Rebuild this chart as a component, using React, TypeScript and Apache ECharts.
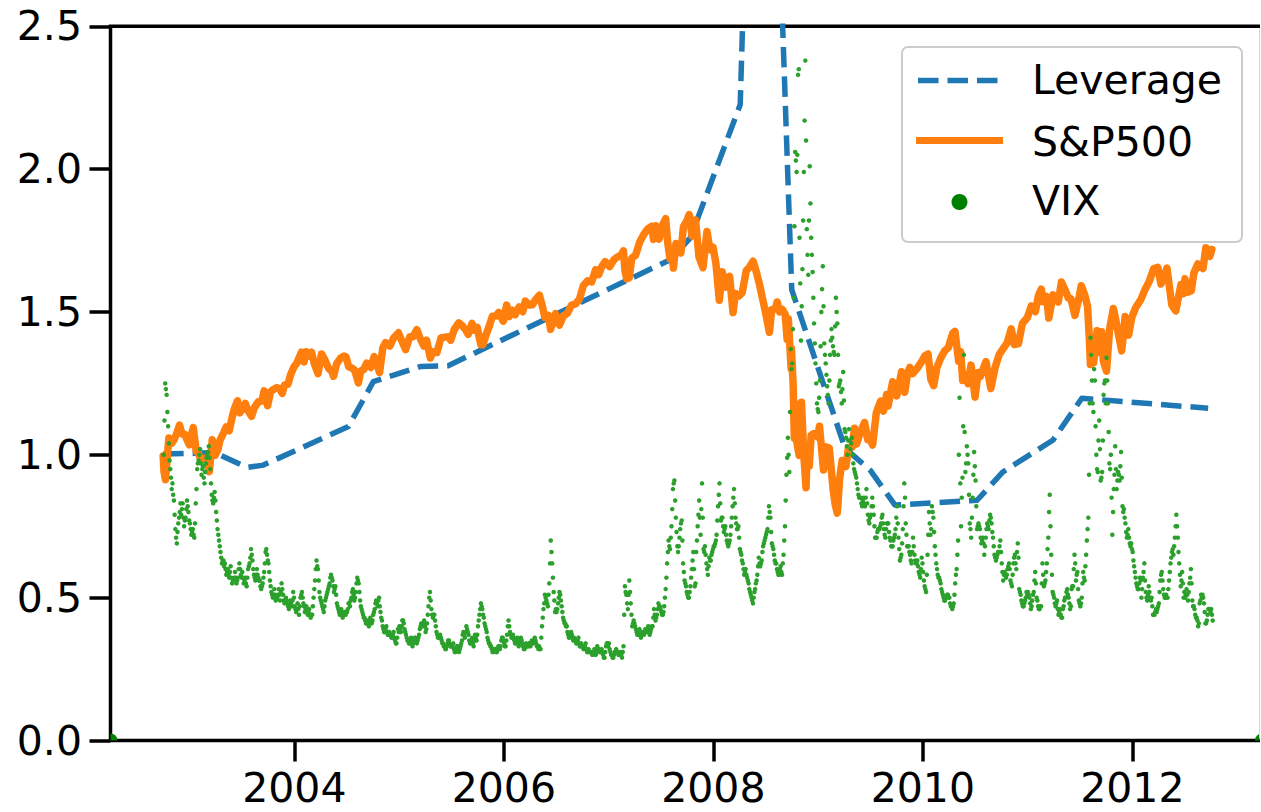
import React, { useEffect, useRef } from "react";
import * as echarts from "echarts";

// ---------- axis ticks ----------
const xTickYears = [2004, 2006, 2008, 2010, 2012];
const X_MIN = 2002.2453;
const X_MAX = 2013.238;
const Y_MIN = 0;
const Y_MAX = 2.5;
const Y_STEP = 0.5;

// ---------- Leverage (normalised) ----------
const leverage: [string, number][] = [
  ["2002-10-01", 1.003], ["2003-03-31", 1.007], ["2003-07-20", 0.956], ["2003-09-15", 0.964],
  ["2004-07-08", 1.099], ["2004-10-03", 1.256], ["2005-03-16", 1.309], ["2005-06-21", 1.312],
  ["2007-08-04", 1.683], ["2007-10-13", 1.759], ["2008-04-04", 2.226], ["2008-06-16", 4.69],
  ["2008-10-01", 1.578], ["2009-04-05", 1.023], ["2009-07-01", 0.947], ["2009-09-26", 0.824],
  ["2010-07-09", 0.841], ["2010-10-07", 0.94], ["2011-03-31", 1.052], ["2011-07-09", 1.198],
  ["2012-09-22", 1.163],
];

// ---------- S&P500 (normalised) ----------
const sp2002: [string, number][] = [
  ["2002-10-01", 0.996], ["2002-10-04", 0.941], ["2002-10-09", 0.913], ["2002-10-15", 0.989], ["2002-10-21", 1.059],
  ["2002-10-31", 1.041], ["2002-11-08", 1.053], ["2002-11-15", 1.069], ["2002-11-27", 1.104], ["2002-12-06", 1.073],
  ["2002-12-16", 1.071], ["2002-12-23", 1.053], ["2002-12-31", 1.035],
];
const sp2003: [string, number][] = [
  ["2003-01-08", 1.071], ["2003-01-14", 1.095], ["2003-01-24", 1.013], ["2003-01-31", 1.007], ["2003-02-10", 0.982],
  ["2003-02-20", 0.985], ["2003-02-28", 0.989], ["2003-03-11", 0.941], ["2003-03-21", 1.053], ["2003-03-31", 0.998],
  ["2003-04-10", 1.019], ["2003-04-17", 1.051], ["2003-04-30", 1.078], ["2003-05-09", 1.098], ["2003-05-19", 1.084],
  ["2003-05-30", 1.134], ["2003-06-06", 1.161], ["2003-06-17", 1.189], ["2003-06-25", 1.147], ["2003-07-03", 1.159],
  ["2003-07-14", 1.18], ["2003-07-24", 1.154], ["2003-08-05", 1.135], ["2003-08-15", 1.165], ["2003-08-29", 1.186],
  ["2003-09-10", 1.188], ["2003-09-18", 1.224], ["2003-09-30", 1.172], ["2003-10-10", 1.221], ["2003-10-21", 1.229],
  ["2003-10-31", 1.235], ["2003-11-10", 1.232], ["2003-11-20", 1.215], ["2003-11-28", 1.245], ["2003-12-10", 1.247],
  ["2003-12-19", 1.28], ["2003-12-31", 1.308],
];
const sp2004: [string, number][] = [
  ["2004-01-09", 1.32], ["2004-01-26", 1.359], ["2004-02-04", 1.325], ["2004-02-11", 1.361], ["2004-02-20", 1.346],
  ["2004-03-01", 1.359], ["2004-03-10", 1.322], ["2004-03-24", 1.284], ["2004-04-05", 1.353], ["2004-04-16", 1.334],
  ["2004-04-30", 1.302], ["2004-05-12", 1.291], ["2004-05-17", 1.275], ["2004-05-28", 1.319], ["2004-06-10", 1.338],
  ["2004-06-23", 1.346], ["2004-06-30", 1.342], ["2004-07-09", 1.308], ["2004-07-20", 1.304], ["2004-07-30", 1.296],
  ["2004-08-12", 1.252], ["2004-08-20", 1.293], ["2004-08-31", 1.299], ["2004-09-10", 1.321], ["2004-09-24", 1.306],
  ["2004-10-06", 1.344], ["2004-10-25", 1.288], ["2004-11-05", 1.373], ["2004-11-15", 1.393], ["2004-11-30", 1.381],
  ["2004-12-13", 1.409], ["2004-12-30", 1.427],
];
const sp2005: [string, number][] = [
  ["2005-01-10", 1.4], ["2005-01-24", 1.368], ["2005-02-07", 1.413], ["2005-02-18", 1.413], ["2005-03-04", 1.438],
  ["2005-03-15", 1.409], ["2005-03-28", 1.381], ["2005-04-07", 1.401], ["2005-04-20", 1.339], ["2005-04-29", 1.361],
  ["2005-05-13", 1.358], ["2005-05-27", 1.409], ["2005-06-10", 1.412], ["2005-06-23", 1.413], ["2005-06-30", 1.401],
  ["2005-07-12", 1.438], ["2005-07-28", 1.462], ["2005-08-10", 1.451], ["2005-08-22", 1.436], ["2005-08-30", 1.422],
  ["2005-09-12", 1.46], ["2005-09-20", 1.436], ["2005-09-30", 1.446], ["2005-10-13", 1.385], ["2005-10-20", 1.385],
  ["2005-10-31", 1.42], ["2005-11-10", 1.447], ["2005-11-22", 1.485], ["2005-12-05", 1.486], ["2005-12-14", 1.498],
  ["2005-12-30", 1.468],
];
const sp2006: [string, number][] = [
  ["2006-01-11", 1.524], ["2006-01-20", 1.484], ["2006-01-31", 1.506], ["2006-02-10", 1.491], ["2006-02-24", 1.518],
  ["2006-03-08", 1.501], ["2006-03-17", 1.538], ["2006-03-31", 1.524], ["2006-04-10", 1.525], ["2006-04-21", 1.542],
  ["2006-05-05", 1.559], ["2006-05-15", 1.522], ["2006-05-24", 1.481], ["2006-06-05", 1.488], ["2006-06-13", 1.439],
  ["2006-06-22", 1.466], ["2006-06-30", 1.494], ["2006-07-14", 1.454], ["2006-07-27", 1.486], ["2006-08-10", 1.495],
  ["2006-08-25", 1.524], ["2006-09-08", 1.528], ["2006-09-22", 1.546], ["2006-10-05", 1.592], ["2006-10-20", 1.609],
  ["2006-11-03", 1.605], ["2006-11-17", 1.648], ["2006-11-28", 1.631], ["2006-12-08", 1.658], ["2006-12-20", 1.676],
];
const sp2007: [string, number][] = [
  ["2007-01-05", 1.659], ["2007-01-19", 1.682], ["2007-01-31", 1.692], ["2007-02-14", 1.699], ["2007-02-22", 1.714],
  ["2007-02-27", 1.646], ["2007-03-05", 1.616], ["2007-03-14", 1.62], ["2007-03-23", 1.689], ["2007-04-05", 1.698],
  ["2007-04-20", 1.746], ["2007-05-04", 1.772], ["2007-05-18", 1.791], ["2007-05-31", 1.8], ["2007-06-07", 1.754],
  ["2007-06-15", 1.802], ["2007-06-26", 1.755], ["2007-07-06", 1.8], ["2007-07-19", 1.827], ["2007-07-26", 1.744],
  ["2007-08-03", 1.686], ["2007-08-09", 1.709], ["2007-08-15", 1.654], ["2007-08-24", 1.74], ["2007-09-10", 1.707],
  ["2007-09-19", 1.799], ["2007-10-01", 1.82], ["2007-10-09", 1.841], ["2007-10-19", 1.766], ["2007-10-31", 1.822],
  ["2007-11-12", 1.693], ["2007-11-26", 1.655], ["2007-12-10", 1.782], ["2007-12-20", 1.718], ["2007-12-31", 1.727],
];
const sp2008: [string, number][] = [
  ["2008-01-10", 1.671], ["2008-01-22", 1.541], ["2008-02-01", 1.641], ["2008-02-14", 1.587], ["2008-02-27", 1.625],
  ["2008-03-10", 1.498], ["2008-03-18", 1.565], ["2008-03-31", 1.556], ["2008-04-11", 1.568], ["2008-04-25", 1.645],
  ["2008-05-05", 1.655], ["2008-05-19", 1.678], ["2008-05-29", 1.645], ["2008-06-10", 1.598], ["2008-06-20", 1.551],
  ["2008-06-30", 1.506], ["2008-07-15", 1.429], ["2008-07-23", 1.508], ["2008-08-05", 1.511], ["2008-08-11", 1.535],
  ["2008-08-20", 1.5], ["2008-08-29", 1.509], ["2008-09-08", 1.492], ["2008-09-15", 1.404], ["2008-09-19", 1.476],
  ["2008-09-29", 1.301], ["2008-09-30", 1.372], ["2008-10-06", 1.244], ["2008-10-10", 1.058], ["2008-10-13", 1.18],
  ["2008-10-15", 1.068], ["2008-10-27", 0.998], ["2008-10-28", 1.107], ["2008-11-04", 1.184], ["2008-11-12", 1.002],
  ["2008-11-20", 0.885], ["2008-11-24", 1.002], ["2008-12-01", 0.96], ["2008-12-08", 1.069], ["2008-12-16", 1.074],
  ["2008-12-31", 1.062],
];
const sp2009: [string, number][] = [
  ["2009-01-06", 1.1], ["2009-01-20", 0.947], ["2009-01-28", 1.028], ["2009-02-09", 1.024], ["2009-02-23", 0.874],
  ["2009-03-02", 0.824], ["2009-03-09", 0.796], ["2009-03-17", 0.915], ["2009-03-26", 0.98], ["2009-04-08", 0.959],
  ["2009-04-17", 1.024], ["2009-04-30", 1.027], ["2009-05-08", 1.093], ["2009-05-15", 1.038], ["2009-05-29", 1.081],
  ["2009-06-12", 1.113], ["2009-06-23", 1.053], ["2009-07-02", 1.054], ["2009-07-10", 1.034], ["2009-07-23", 1.148],
  ["2009-08-07", 1.188], ["2009-08-17", 1.153], ["2009-08-28", 1.211], ["2009-09-02", 1.171], ["2009-09-18", 1.256],
  ["2009-10-02", 1.206], ["2009-10-19", 1.291], ["2009-10-30", 1.219], ["2009-11-09", 1.286], ["2009-11-17", 1.306],
  ["2009-11-27", 1.284], ["2009-12-11", 1.301], ["2009-12-28", 1.326],
];
const sp2010: [string, number][] = [
  ["2010-01-08", 1.347], ["2010-01-19", 1.353], ["2010-01-29", 1.264], ["2010-02-08", 1.242], ["2010-02-19", 1.305],
  ["2010-03-05", 1.34], ["2010-03-19", 1.365], ["2010-03-31", 1.375], ["2010-04-15", 1.425], ["2010-04-23", 1.432],
  ["2010-05-06", 1.327], ["2010-05-13", 1.361], ["2010-05-20", 1.26], ["2010-05-28", 1.281], ["2010-06-08", 1.249],
  ["2010-06-18", 1.314], ["2010-07-02", 1.202], ["2010-07-13", 1.288], ["2010-07-20", 1.274], ["2010-08-09", 1.326],
  ["2010-08-26", 1.232], ["2010-09-10", 1.306], ["2010-09-24", 1.351], ["2010-10-08", 1.372], ["2010-10-22", 1.392],
  ["2010-11-05", 1.441], ["2010-11-16", 1.386], ["2010-11-30", 1.389], ["2010-12-14", 1.46], ["2010-12-31", 1.48],
];
const sp2011: [string, number][] = [
  ["2011-01-14", 1.521], ["2011-01-28", 1.501], ["2011-02-08", 1.558], ["2011-02-18", 1.58], ["2011-02-24", 1.536],
  ["2011-03-08", 1.554], ["2011-03-16", 1.479], ["2011-03-31", 1.56], ["2011-04-18", 1.535], ["2011-04-29", 1.605],
  ["2011-05-13", 1.574], ["2011-05-23", 1.549], ["2011-06-01", 1.547], ["2011-06-15", 1.488], ["2011-06-30", 1.554],
  ["2011-07-07", 1.592], ["2011-07-19", 1.561], ["2011-07-29", 1.52], ["2011-08-04", 1.412], ["2011-08-08", 1.316],
  ["2011-08-11", 1.38], ["2011-08-19", 1.322], ["2011-08-31", 1.434], ["2011-09-09", 1.358], ["2011-09-16", 1.431],
  ["2011-09-22", 1.329], ["2011-10-03", 1.293], ["2011-10-14", 1.441], ["2011-10-27", 1.512], ["2011-11-04", 1.474],
  ["2011-11-09", 1.446], ["2011-11-25", 1.364], ["2011-12-07", 1.484], ["2011-12-19", 1.419], ["2011-12-30", 1.48],
];
const sp2012: [string, number][] = [
  ["2012-01-13", 1.516], ["2012-01-31", 1.544], ["2012-02-15", 1.58], ["2012-02-29", 1.607], ["2012-03-16", 1.652],
  ["2012-03-30", 1.656], ["2012-04-10", 1.598], ["2012-04-20", 1.621], ["2012-05-01", 1.654], ["2012-05-18", 1.524],
  ["2012-06-01", 1.504], ["2012-06-19", 1.596], ["2012-06-28", 1.564], ["2012-07-03", 1.616], ["2012-07-12", 1.569],
  ["2012-07-25", 1.574], ["2012-08-03", 1.636], ["2012-08-17", 1.668], ["2012-09-04", 1.652], ["2012-09-14", 1.725],
  ["2012-09-28", 1.695], ["2012-10-05", 1.719],
];

// ---------- VIX (normalised), six readings per month (set A) ----------
const vix2002 = [1.0, 1.25, 1.21, 1.1, 0.98, 0.92, 0.9, 0.84, 0.74, 0.69, 0.76, 0.8, 0.79, 0.83, 0.75, 0.78, 0.84, 0.8];
const vix2003 = [
  0.76, 0.72, 0.74, 0.71, 0.83, 0.95, 0.98, 1.02, 0.93, 0.96, 0.9, 0.97, 1.0, 1.03, 0.95, 0.86, 0.83, 0.87,
  0.8, 0.74, 0.7, 0.66, 0.62, 0.63, 0.62, 0.58, 0.6, 0.57, 0.61, 0.55, 0.56, 0.59, 0.55, 0.57, 0.62, 0.58,
  0.59, 0.55, 0.57, 0.54, 0.6, 0.62, 0.67, 0.63, 0.58, 0.56, 0.6, 0.57, 0.56, 0.53, 0.55, 0.59, 0.66, 0.65,
  0.62, 0.56, 0.52, 0.5, 0.53, 0.49, 0.5, 0.53, 0.49, 0.55, 0.51, 0.48, 0.5, 0.48, 0.46, 0.49, 0.47, 0.52,
];
const vix2004 = [
  0.47, 0.45, 0.48, 0.44, 0.5, 0.52, 0.48, 0.45, 0.47, 0.44, 0.46, 0.43, 0.44, 0.5, 0.56, 0.63, 0.6, 0.52,
  0.49, 0.47, 0.45, 0.49, 0.51, 0.53, 0.55, 0.58, 0.56, 0.52, 0.54, 0.48, 0.46, 0.44, 0.46, 0.43, 0.45, 0.44,
  0.45, 0.48, 0.47, 0.5, 0.53, 0.49, 0.52, 0.57, 0.55, 0.49, 0.46, 0.44, 0.43, 0.41, 0.42, 0.4, 0.43, 0.41,
  0.44, 0.46, 0.49, 0.47, 0.5, 0.45, 0.42, 0.39, 0.38, 0.4, 0.37, 0.38, 0.37, 0.36, 0.38, 0.35, 0.34, 0.39,
];
const vix2005 = [
  0.4, 0.38, 0.42, 0.41, 0.38, 0.36, 0.35, 0.34, 0.36, 0.33, 0.35, 0.36, 0.34, 0.36, 0.39, 0.41, 0.4, 0.42,
  0.38, 0.41, 0.47, 0.52, 0.46, 0.43, 0.44, 0.4, 0.37, 0.36, 0.37, 0.35, 0.34, 0.33, 0.32, 0.34, 0.35, 0.33,
  0.33, 0.34, 0.31, 0.32, 0.33, 0.31, 0.33, 0.35, 0.38, 0.36, 0.4, 0.38, 0.35, 0.34, 0.36, 0.33, 0.37, 0.35,
  0.4, 0.44, 0.48, 0.46, 0.43, 0.4, 0.38, 0.35, 0.34, 0.33, 0.31, 0.32, 0.32, 0.31, 0.33, 0.32, 0.35, 0.36,
];
const vix2006 = [
  0.34, 0.33, 0.37, 0.42, 0.38, 0.36, 0.37, 0.35, 0.34, 0.36, 0.33, 0.35, 0.35, 0.33, 0.32, 0.34, 0.33, 0.34,
  0.33, 0.35, 0.34, 0.36, 0.34, 0.33, 0.33, 0.32, 0.4, 0.46, 0.51, 0.49, 0.47, 0.55, 0.7, 0.62, 0.52, 0.45,
  0.45, 0.48, 0.52, 0.49, 0.45, 0.42, 0.41, 0.4, 0.37, 0.36, 0.38, 0.36, 0.36, 0.35, 0.34, 0.36, 0.33, 0.34,
  0.33, 0.32, 0.34, 0.31, 0.32, 0.31, 0.31, 0.3, 0.32, 0.3, 0.33, 0.32, 0.31, 0.32, 0.3, 0.29, 0.33, 0.34,
];
const vix2007 = [
  0.34, 0.31, 0.3, 0.29, 0.31, 0.32, 0.31, 0.3, 0.31, 0.29, 0.33, 0.54, 0.51, 0.46, 0.56, 0.48, 0.4, 0.42,
  0.4, 0.38, 0.37, 0.39, 0.36, 0.38, 0.37, 0.39, 0.38, 0.4, 0.37, 0.39, 0.4, 0.46, 0.42, 0.44, 0.48, 0.47,
  0.45, 0.44, 0.47, 0.53, 0.62, 0.7, 0.67, 0.75, 0.88, 0.91, 0.78, 0.68, 0.68, 0.74, 0.77, 0.62, 0.56, 0.54,
  0.51, 0.5, 0.54, 0.6, 0.66, 0.54, 0.66, 0.75, 0.84, 0.72, 0.9, 0.67, 0.68, 0.62, 0.58, 0.64, 0.63, 0.66,
];
const vix2008 = [
  0.68, 0.69, 0.72, 0.82, 0.9, 0.77, 0.78, 0.73, 0.75, 0.7, 0.68, 0.7, 0.75, 0.82, 0.88, 0.78, 0.74, 0.75,
  0.67, 0.65, 0.62, 0.58, 0.6, 0.57, 0.55, 0.52, 0.5, 0.48, 0.52, 0.55, 0.58, 0.64, 0.61, 0.63, 0.68, 0.7,
  0.72, 0.74, 0.82, 0.78, 0.69, 0.67, 0.63, 0.62, 0.59, 0.58, 0.61, 0.58, 0.65, 0.75, 0.93, 1.06, 0.94, 1.37,
  1.32, 1.55, 2.06, 1.99, 2.33, 1.76, 1.4, 1.65, 1.99, 2.38, 1.79, 1.63, 2.01, 1.76, 1.64, 1.46, 1.32, 1.18,
];
const vix2009 = [
  1.15, 1.26, 1.5, 1.66, 1.39, 1.32, 1.24, 1.18, 1.35, 1.44, 1.38, 1.35, 1.55, 1.46, 1.24, 1.26, 1.18, 1.29,
  1.09, 1.06, 1.0, 1.09, 1.02, 1.06, 0.97, 0.94, 0.92, 0.88, 0.85, 0.85, 0.82, 0.85, 0.82, 0.88, 0.79, 0.76,
  0.79, 0.85, 0.79, 0.71, 0.71, 0.74, 0.74, 0.76, 0.79, 0.74, 0.71, 0.76, 0.76, 0.71, 0.68, 0.68, 0.71, 0.74,
  0.82, 0.71, 0.63, 0.65, 0.74, 0.9, 0.76, 0.68, 0.68, 0.65, 0.62, 0.71, 0.65, 0.62, 0.63, 0.59, 0.57, 0.64,
];
const vix2010 = [
  0.59, 0.54, 0.52, 0.65, 0.8, 0.72, 0.82, 0.78, 0.68, 0.62, 0.58, 0.57, 0.55, 0.52, 0.5, 0.49, 0.5, 0.51,
  0.5, 0.47, 0.46, 0.48, 0.55, 0.6, 0.7, 1.2, 0.75, 0.92, 1.35, 0.94, 1.03, 0.97, 0.76, 0.71, 0.85, 1.01,
  0.91, 0.74, 0.76, 0.74, 0.69, 0.71, 0.65, 0.71, 0.76, 0.74, 0.79, 0.76, 0.71, 0.65, 0.63, 0.65, 0.66, 0.7,
  0.62, 0.56, 0.59, 0.57, 0.6, 0.62, 0.56, 0.54, 0.62, 0.65, 0.6, 0.69, 0.53, 0.51, 0.48, 0.47, 0.49, 0.52,
];
const vix2011 = [
  0.52, 0.5, 0.46, 0.49, 0.52, 0.59, 0.5, 0.47, 0.46, 0.47, 0.62, 0.54, 0.56, 0.62, 0.71, 0.86, 0.65, 0.52,
  0.5, 0.47, 0.49, 0.44, 0.46, 0.43, 0.46, 0.49, 0.5, 0.53, 0.5, 0.46, 0.53, 0.54, 0.65, 0.56, 0.59, 0.49,
  0.47, 0.5, 0.59, 0.56, 0.65, 0.74, 0.93, 1.41, 1.26, 1.15, 1.26, 1.0, 0.94, 1.12, 0.91, 0.94, 1.21, 1.26,
  1.34, 1.18, 0.97, 1.0, 0.72, 0.88, 1.03, 0.88, 0.94, 0.91, 1.01, 0.82, 0.81, 0.76, 0.71, 0.74, 0.69, 0.69,
];
const vix2012 = [
  0.66, 0.61, 0.57, 0.54, 0.53, 0.57, 0.5, 0.57, 0.62, 0.52, 0.49, 0.54, 0.5, 0.5, 0.44, 0.44, 0.46, 0.46,
  0.48, 0.56, 0.59, 0.53, 0.5, 0.51, 0.5, 0.56, 0.62, 0.66, 0.65, 0.71, 0.79, 0.71, 0.62, 0.54, 0.59, 0.5,
  0.5, 0.53, 0.49, 0.55, 0.6, 0.49, 0.47, 0.44, 0.43, 0.4, 0.48, 0.51, 0.51, 0.48, 0.41, 0.42, 0.46, 0.46,
  0.46, 0.42,
];

// ---------- VIX (normalised), in-between readings (set B) ----------
const vixB2002 = [1.12, 1.23, 1.15, 1.04, 0.95, 0.88, 0.86, 0.79, 0.71, 0.73, 0.78, 0.83, 0.81, 0.78, 0.77, 0.81, 0.82, 0.77];
const vixB2003 = [
  0.74, 0.73, 0.72, 0.76, 0.88, 0.97, 1.0, 0.97, 0.95, 0.92, 0.94, 0.99, 1.01, 0.99, 0.9, 0.84, 0.85, 0.84,
  0.77, 0.72, 0.68, 0.64, 0.63, 0.61, 0.6, 0.59, 0.58, 0.59, 0.57, 0.56, 0.57, 0.57, 0.56, 0.6, 0.6, 0.57,
  0.57, 0.56, 0.55, 0.57, 0.61, 0.64, 0.65, 0.6, 0.57, 0.58, 0.58, 0.56, 0.54, 0.54, 0.57, 0.62, 0.67, 0.63,
  0.59, 0.54, 0.51, 0.51, 0.51, 0.5, 0.51, 0.51, 0.52, 0.53, 0.49, 0.49, 0.49, 0.47, 0.47, 0.48, 0.49, 0.5,
];
const vixB2004 = [
  0.46, 0.46, 0.46, 0.47, 0.51, 0.5, 0.47, 0.46, 0.45, 0.45, 0.44, 0.44, 0.47, 0.53, 0.6, 0.61, 0.56, 0.5,
  0.48, 0.46, 0.47, 0.5, 0.52, 0.54, 0.57, 0.57, 0.54, 0.53, 0.51, 0.47, 0.45, 0.45, 0.44, 0.44, 0.45, 0.45,
  0.46, 0.48, 0.49, 0.52, 0.51, 0.5, 0.55, 0.56, 0.52, 0.47, 0.45, 0.43, 0.42, 0.41, 0.41, 0.42, 0.42, 0.42,
  0.45, 0.48, 0.48, 0.49, 0.47, 0.43, 0.4, 0.38, 0.39, 0.38, 0.37, 0.37, 0.36, 0.37, 0.36, 0.34, 0.36, 0.38,
];
const vixB2005 = [
  0.39, 0.4, 0.42, 0.39, 0.37, 0.35, 0.34, 0.35, 0.34, 0.34, 0.36, 0.35, 0.35, 0.37, 0.4, 0.4, 0.41, 0.4,
  0.39, 0.44, 0.5, 0.49, 0.44, 0.44, 0.42, 0.38, 0.36, 0.36, 0.36, 0.34, 0.33, 0.32, 0.33, 0.35, 0.34, 0.33,
  0.33, 0.32, 0.31, 0.33, 0.32, 0.32, 0.34, 0.37, 0.37, 0.38, 0.39, 0.37, 0.34, 0.35, 0.34, 0.35, 0.36, 0.37,
  0.42, 0.46, 0.47, 0.44, 0.41, 0.39, 0.36, 0.34, 0.33, 0.32, 0.31, 0.32, 0.31, 0.32, 0.32, 0.33, 0.36, 0.35,
];
const vixB2006 = [
  0.33, 0.35, 0.4, 0.4, 0.37, 0.36, 0.36, 0.34, 0.35, 0.34, 0.34, 0.36, 0.34, 0.32, 0.33, 0.33, 0.33, 0.34,
  0.34, 0.34, 0.35, 0.35, 0.33, 0.32, 0.32, 0.36, 0.43, 0.48, 0.5, 0.48, 0.51, 0.62, 0.66, 0.57, 0.49, 0.46,
  0.46, 0.5, 0.51, 0.47, 0.43, 0.41, 0.4, 0.38, 0.36, 0.37, 0.37, 0.35, 0.35, 0.34, 0.35, 0.34, 0.33, 0.33,
  0.32, 0.33, 0.32, 0.31, 0.31, 0.31, 0.3, 0.31, 0.31, 0.31, 0.32, 0.31, 0.31, 0.31, 0.29, 0.31, 0.34, 0.33,
];
const vixB2007 = [
  0.32, 0.3, 0.29, 0.3, 0.31, 0.31, 0.3, 0.3, 0.3, 0.31, 0.44, 0.52, 0.48, 0.51, 0.52, 0.44, 0.41, 0.41,
  0.39, 0.37, 0.38, 0.37, 0.37, 0.37, 0.38, 0.38, 0.39, 0.38, 0.38, 0.4, 0.43, 0.44, 0.43, 0.46, 0.47, 0.46,
  0.44, 0.45, 0.5, 0.57, 0.66, 0.68, 0.71, 0.81, 0.9, 0.84, 0.73, 0.66, 0.71, 0.76, 0.7, 0.59, 0.55, 0.52,
  0.5, 0.52, 0.57, 0.63, 0.6, 0.55, 0.7, 0.79, 0.78, 0.81, 0.78, 0.66, 0.65, 0.6, 0.61, 0.63, 0.65, 0.67,
];
const vixB2008 = [
  0.68, 0.7, 0.77, 0.86, 0.83, 0.78, 0.75, 0.74, 0.72, 0.69, 0.69, 0.72, 0.78, 0.85, 0.83, 0.76, 0.74, 0.71,
  0.66, 0.63, 0.6, 0.59, 0.58, 0.56, 0.53, 0.51, 0.49, 0.5, 0.53, 0.56, 0.61, 0.62, 0.62, 0.66, 0.69, 0.71,
  0.73, 0.78, 0.8, 0.73, 0.68, 0.65, 0.62, 0.6, 0.58, 0.6, 0.59, 0.62, 0.7, 0.84, 0.99, 1.0, 1.15, 1.3,
  1.44, 1.8, 2.03, 2.05, 2.35, 1.6, 1.52, 1.82, 2.17, 2.1, 1.7, 1.82, 1.88, 1.7, 1.55, 1.39, 1.25, 1.16,
];
const vixB2009 = [
  1.2, 1.38, 1.58, 1.52, 1.35, 1.28, 1.21, 1.26, 1.4, 1.41, 1.36, 1.45, 1.5, 1.35, 1.25, 1.22, 1.23, 1.19,
  1.08, 1.03, 1.05, 1.05, 1.04, 1.0, 0.95, 0.93, 0.9, 0.86, 0.85, 0.83, 0.84, 0.83, 0.85, 0.83, 0.77, 0.78,
  0.82, 0.82, 0.75, 0.71, 0.73, 0.74, 0.75, 0.78, 0.76, 0.72, 0.74, 0.76, 0.73, 0.7, 0.68, 0.7, 0.72, 0.78,
  0.76, 0.67, 0.64, 0.69, 0.82, 0.85, 0.72, 0.68, 0.66, 0.63, 0.66, 0.68, 0.63, 0.62, 0.61, 0.58, 0.6, 0.62,
];
const vixB2010 = [
  0.56, 0.53, 0.58, 0.72, 0.76, 0.74, 0.8, 0.73, 0.65, 0.6, 0.57, 0.56, 0.53, 0.51, 0.49, 0.5, 0.51, 0.5,
  0.48, 0.47, 0.47, 0.51, 0.58, 0.65, 1.0, 0.9, 0.85, 1.1, 1.08, 0.97, 1.0, 0.86, 0.74, 0.78, 0.93, 0.96,
  0.82, 0.75, 0.75, 0.71, 0.7, 0.69, 0.68, 0.74, 0.75, 0.77, 0.78, 0.73, 0.68, 0.64, 0.64, 0.66, 0.68, 0.66,
  0.59, 0.58, 0.58, 0.58, 0.61, 0.6, 0.55, 0.58, 0.64, 0.62, 0.66, 0.64, 0.52, 0.49, 0.47, 0.48, 0.5, 0.51,
];
const vixB2011 = [
  0.51, 0.48, 0.47, 0.51, 0.56, 0.55, 0.49, 0.46, 0.47, 0.55, 0.58, 0.55, 0.59, 0.67, 0.8, 0.75, 0.58, 0.51,
  0.48, 0.48, 0.46, 0.45, 0.44, 0.43, 0.47, 0.5, 0.52, 0.51, 0.48, 0.47, 0.54, 0.6, 0.62, 0.58, 0.53, 0.48,
  0.48, 0.55, 0.57, 0.61, 0.7, 0.78, 1.18, 1.35, 1.18, 1.3, 1.1, 0.95, 1.05, 1.02, 0.92, 1.05, 1.25, 1.18,
  1.26, 1.08, 0.95, 0.85, 0.8, 0.93, 0.95, 0.91, 0.93, 0.96, 0.92, 0.8, 0.78, 0.73, 0.72, 0.71, 0.68, 0.67,
];
const vixB2012 = [
  0.63, 0.59, 0.55, 0.53, 0.55, 0.56, 0.53, 0.59, 0.56, 0.5, 0.51, 0.52, 0.49, 0.47, 0.44, 0.45, 0.45, 0.47,
  0.52, 0.58, 0.56, 0.51, 0.5, 0.5, 0.53, 0.59, 0.64, 0.67, 0.68, 0.75, 0.75, 0.66, 0.58, 0.56, 0.55, 0.52,
  0.51, 0.51, 0.52, 0.57, 0.55, 0.47, 0.46, 0.43, 0.42, 0.41, 0.49, 0.5, 0.5, 0.45, 0.41, 0.44, 0.46, 0.45,
  0.44,
];

// ---------- legend ----------
const legendNames = ["Leverage", "S&P500", "VIX"];

const C_BLUE = "#1f77b4";
const C_ORANGE = "#ff7f0e";
const C_GREEN = "#2ca02c";
const FONT = "DejaVu Sans";

function toYear(s: string): number {
  const [y, m, d] = s.split("-").map(Number);
  const t0 = Date.UTC(y, 0, 1);
  const t1 = Date.UTC(y + 1, 0, 1);
  return y + (Date.UTC(y, m - 1, d) - t0) / (t1 - t0);
}

// six readings per month: reading k of month m sits at slot (k + offset) / 6 of that month
function vixPoints(year: number, startMonth: number, vals: number[], offset: number): [number, number][] {
  return vals.map((v, i) => {
    const m = startMonth + Math.floor(i / 6);
    const k = i % 6;
    return [year + (m + (k + offset) / 6) / 12, v];
  });
}

export default function App() {
  const ref = useRef<HTMLDivElement>(null);

  useEffect(() => {
    if (!ref.current) return;
    const chart = echarts.init(ref.current, undefined, { renderer: "svg" });

    const spAll = [
      ...sp2002, ...sp2003, ...sp2004, ...sp2005, ...sp2006, ...sp2007,
      ...sp2008, ...sp2009, ...sp2010, ...sp2011, ...sp2012,
    ].map(([d, v]) => [toYear(d), v]);
    const levAll = leverage.map(([d, v]) => [toYear(d), v]);
    const setA: [number, number[]][] = [
      [2003, vix2003], [2004, vix2004], [2005, vix2005], [2006, vix2006], [2007, vix2007],
      [2008, vix2008], [2009, vix2009], [2010, vix2010], [2011, vix2011], [2012, vix2012],
    ];
    const setB: [number, number[]][] = [
      [2003, vixB2003], [2004, vixB2004], [2005, vixB2005], [2006, vixB2006], [2007, vixB2007],
      [2008, vixB2008], [2009, vixB2009], [2010, vixB2010], [2011, vixB2011], [2012, vixB2012],
    ];
    const vixAll = [
      ...vixPoints(2002, 9, vix2002, 0.25),
      ...vixPoints(2002, 9, vixB2002, 0.75),
      ...setA.flatMap(([y, vals]) => vixPoints(y, 0, vals, 0.25)),
      ...setB.flatMap(([y, vals]) => vixPoints(y, 0, vals, 0.75)),
    ];

    const tickStyle = { show: true, length: 21, inside: false, lineStyle: { color: "#000", width: 3.5 } };
    const labelStyle = { color: "#000", fontFamily: FONT, fontSize: 41 };

    chart.setOption({
      animation: false,
      grid: {
        left: 110.5,
        right: 8,
        top: 26.3,
        bottom: 71.5,
        show: true,
        borderColor: "#000",
        borderWidth: 3.5,
        backgroundColor: "transparent",
      },
      xAxis: {
        type: "value",
        min: X_MIN,
        max: X_MAX,
        axisLine: { show: false },
        splitLine: { show: false },
        axisTick: { ...tickStyle, customValues: xTickYears },
        axisLabel: {
          ...labelStyle,
          margin: 27,
          customValues: xTickYears,
          formatter: (v: number) => String(Math.round(v)),
        },
      },
      yAxis: {
        type: "value",
        min: Y_MIN,
        max: Y_MAX,
        interval: Y_STEP,
        axisLine: { show: false },
        splitLine: { show: false },
        axisTick: tickStyle,
        axisLabel: { ...labelStyle, margin: 28.5, formatter: (v: number) => v.toFixed(1) },
      },
      series: [
        {
          name: legendNames[0],
          type: "line",
          data: levAll,
          showSymbol: false,
          silent: true,
          clip: true,
          lineStyle: { color: C_BLUE, width: 5.5, type: [20.5, 9], cap: "butt", join: "round" },
          z: 2,
        },
        {
          name: legendNames[1],
          type: "line",
          data: spAll,
          showSymbol: false,
          silent: true,
          clip: true,
          lineStyle: { color: C_ORANGE, width: 7.5, cap: "round", join: "round" },
          z: 3,
        },
        {
          name: legendNames[2],
          type: "scatter",
          data: vixAll,
          symbol: "circle",
          symbolSize: 4.5,
          silent: true,
          large: false,
          itemStyle: { color: C_GREEN, opacity: 1 },
          z: 4,
        },
        {
          name: "corner",
          type: "scatter",
          silent: true,
          symbolSize: 7,
          itemStyle: { color: "#008000", opacity: 1 },
          z: 1,
          data: [
            { value: [X_MIN, 0], symbol: "path://M0,8L8,8A8,8,0,0,0,0,0Z", symbolOffset: [3.5, -3.5] },
            { value: [X_MAX, 0], symbol: "path://M8,8L0,8A8,8,0,0,1,8,0Z", symbolOffset: [-3.5, -3.5] },
          ],
        },
      ],
      graphic: [
        {
          type: "line",
          z: 50,
          shape: { x1: 1259.5, y1: 28.5, x2: 1259.5, y2: 738.5 },
          style: { stroke: "#d4d4d4", lineWidth: 1 },
        },
        {
          type: "rect",
          z: 100,
          shape: { x: 902, y: 47, width: 340, height: 195, r: 6 },
          style: { fill: "rgba(255,255,255,0.8)", stroke: "#cccccc", lineWidth: 2 },
        },
        {
          type: "line",
          z: 101,
          shape: { x1: 918, y1: 80.5, x2: 999, y2: 80.5 },
          style: { stroke: C_BLUE, lineWidth: 5.5, lineDash: [20.5, 9] },
        },
        {
          type: "line",
          z: 101,
          shape: { x1: 916, y1: 140.5, x2: 1003, y2: 140.5 },
          style: { stroke: C_ORANGE, lineWidth: 7 },
        },
        {
          type: "circle",
          z: 101,
          shape: { cx: 959.5, cy: 202, r: 8 },
          style: { fill: "#008000" },
        },
        ...legendNames.map((name, i) => ({
          type: "text",
          z: 101,
          x: 1032,
          y: [80, 142, 201][i],
          style: {
            text: name,
            fill: "#000",
            font: `41px "${FONT}"`,
            textAlign: "left",
            textVerticalAlign: "middle",
            verticalAlign: "middle",
          },
        })),
      ],
    });

    return () => chart.dispose();
  }, []);

  return (
    <div style={{ position: "absolute", left: 0, top: 0, width: 1260, height: 812, overflow: "hidden", background: "#fff" }}>
      <div ref={ref} style={{ width: 1270, height: 812 }} />
    </div>
  );
}
